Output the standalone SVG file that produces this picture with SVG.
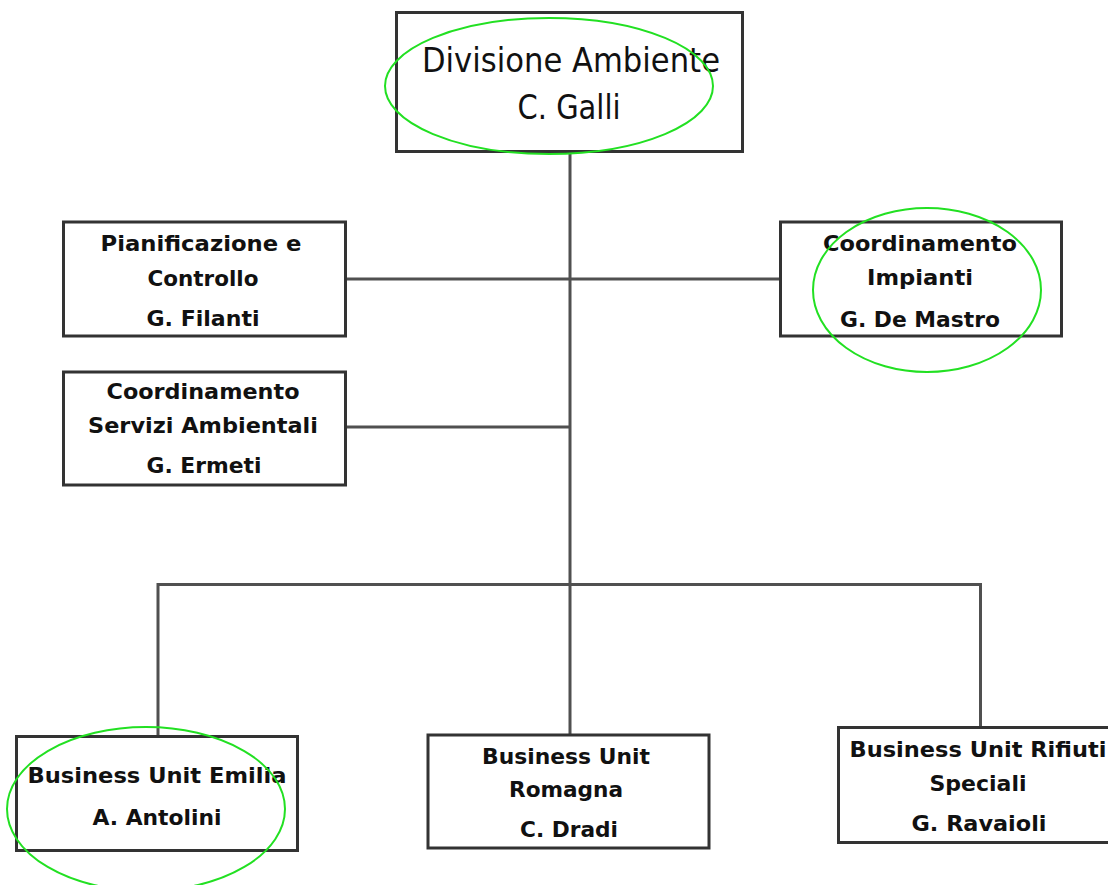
<svg xmlns="http://www.w3.org/2000/svg" width="1108" height="885" viewBox="0 0 1108 885">
  <style>
    .box { fill: #ffffff; stroke: #333333; stroke-width: 3; }
    .link { fill: none; stroke: #505050; stroke-width: 3; }
    .mark { fill: none; stroke: #22e022; stroke-width: 2; }
    .title { font-family: "DejaVu Sans", "Liberation Sans", sans-serif; font-size: 34px; fill: #111111; text-anchor: middle; }
    .lbl { font-family: "DejaVu Sans", "Liberation Sans", sans-serif; font-size: 22px; font-weight: bold; fill: #111111; text-anchor: middle; }
  </style>

  <!-- connectors -->
  <g id="connectors">
    <line class="link" x1="570" y1="152" x2="570" y2="735"/>
    <line class="link" x1="345" y1="279" x2="780" y2="279"/>
    <line class="link" x1="345" y1="427" x2="570" y2="427"/>
    <polyline class="link" points="158,737 158,584.5 980.5,584.5 980.5,727"/>
  </g>

  <!-- root -->
  <g id="divisione-ambiente">
    <rect class="box" x="396.5" y="12.5" width="346" height="139"/>
    <text class="title" x="571" y="72" textLength="298" lengthAdjust="spacingAndGlyphs">Divisione Ambiente</text>
    <text class="title" x="569" y="119" textLength="103" lengthAdjust="spacingAndGlyphs">C. Galli</text>
  </g>

  <g id="pianificazione-controllo">
    <rect class="box" x="63.5" y="222" width="282" height="114"/>
    <text class="lbl" x="201" y="251" textLength="201" lengthAdjust="spacingAndGlyphs">Pianificazione e</text>
    <text class="lbl" x="203" y="286" textLength="111" lengthAdjust="spacingAndGlyphs">Controllo</text>
    <text class="lbl" x="203" y="326" textLength="113" lengthAdjust="spacingAndGlyphs">G. Filanti</text>
  </g>

  <g id="coordinamento-impianti">
    <rect class="box" x="780.5" y="222" width="281" height="114"/>
    <text class="lbl" x="920" y="251" textLength="194" lengthAdjust="spacingAndGlyphs">Coordinamento</text>
    <text class="lbl" x="920" y="285" textLength="106" lengthAdjust="spacingAndGlyphs">Impianti</text>
    <text class="lbl" x="920" y="327" textLength="160" lengthAdjust="spacingAndGlyphs">G. De Mastro</text>
  </g>

  <g id="coordinamento-servizi">
    <rect class="box" x="63.5" y="372" width="282" height="113"/>
    <text class="lbl" x="203" y="399" textLength="193" lengthAdjust="spacingAndGlyphs">Coordinamento</text>
    <text class="lbl" x="203" y="433" textLength="230" lengthAdjust="spacingAndGlyphs">Servizi Ambientali</text>
    <text class="lbl" x="204" y="473" textLength="115" lengthAdjust="spacingAndGlyphs">G. Ermeti</text>
  </g>

  <g id="bu-emilia">
    <rect class="box" x="16.5" y="736.5" width="281" height="114"/>
    <text class="lbl" x="157" y="783" textLength="259" lengthAdjust="spacingAndGlyphs">Business Unit Emilia</text>
    <text class="lbl" x="157" y="825" textLength="129" lengthAdjust="spacingAndGlyphs">A. Antolini</text>
  </g>

  <g id="bu-romagna">
    <rect class="box" x="428" y="735" width="281" height="113"/>
    <text class="lbl" x="566" y="764" textLength="168" lengthAdjust="spacingAndGlyphs">Business Unit</text>
    <text class="lbl" x="566" y="797" textLength="114" lengthAdjust="spacingAndGlyphs">Romagna</text>
    <text class="lbl" x="569" y="837" textLength="98" lengthAdjust="spacingAndGlyphs">C. Dradi</text>
  </g>

  <g id="bu-rifiuti-speciali">
    <rect class="box" x="838.5" y="727.5" width="290" height="115"/>
    <text class="lbl" x="978" y="757" textLength="257" lengthAdjust="spacingAndGlyphs">Business Unit Rifiuti</text>
    <text class="lbl" x="978" y="791" textLength="97" lengthAdjust="spacingAndGlyphs">Speciali</text>
    <text class="lbl" x="979" y="831" textLength="135" lengthAdjust="spacingAndGlyphs">G. Ravaioli</text>
  </g>

  <!-- hand-drawn highlight rings -->
  <g id="highlights">
    <ellipse class="mark" cx="549" cy="86" rx="164" ry="68"/>
    <ellipse class="mark" cx="927" cy="290" rx="114" ry="82"/>
    <ellipse class="mark" cx="146" cy="809" rx="139" ry="82"/>
  </g>
</svg>
